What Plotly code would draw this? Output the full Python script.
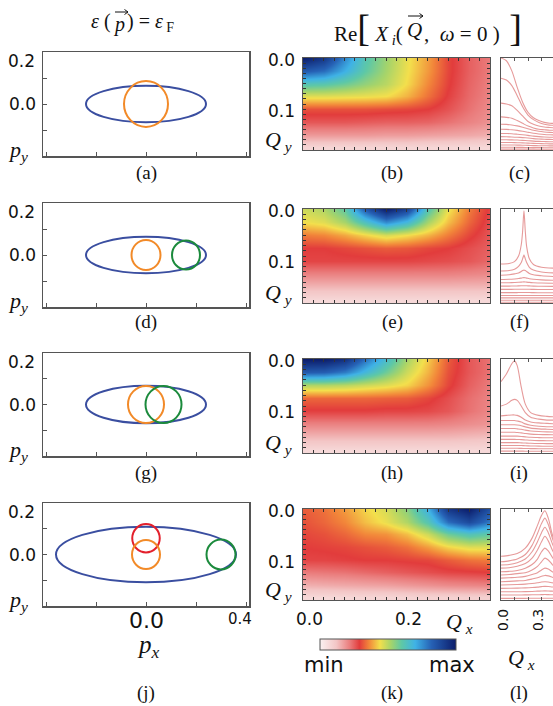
import plotly.graph_objects as go

W, H = 553, 706

# ---------------- data ----------------
# Fermi surfaces, panels (a), (d), (g), (j)
fs_panels = ["a", "d", "g", "j"]
fs_ellipse_rx = [0.24, 0.24, 0.24, 0.36]
fs_ellipse_ry = [0.070, 0.070, 0.073, 0.108]
fs_circle_kind = [["orange"], ["orange", "green"], ["orange", "green"], ["red", "orange", "green"]]
fs_circle_cx = [[0.0], [0.0, 0.16], [0.0, 0.07], [0.0, 0.0, 0.30]]
fs_circle_cy = [[0.0], [0.0, 0.0], [0.0, 0.0], [0.063, 0.0, 0.0]]
fs_circle_r = [[0.088], [0.058, 0.056], [0.072, 0.072], [0.055, 0.056, 0.058]]

# Re X_i(Q, w=0) maps, panels (b), (e), (h), (k)  (0 = min, 1 = max)
qx_grid = [0.00, 0.04, 0.08, 0.12, 0.16, 0.20, 0.24, 0.28, 0.32, 0.36]
qy_grid = [0.000, 0.025, 0.050, 0.075, 0.100, 0.125, 0.150, 0.175]

z_b = [
    [1.00, 0.93, 0.76, 0.62, 0.53, 0.45, 0.38, 0.30, 0.25, 0.22],
    [0.84, 0.80, 0.70, 0.60, 0.52, 0.445, 0.375, 0.30, 0.25, 0.22],
    [0.62, 0.61, 0.58, 0.54, 0.50, 0.435, 0.36, 0.295, 0.245, 0.215],
    [0.46, 0.46, 0.455, 0.45, 0.44, 0.40, 0.34, 0.285, 0.24, 0.21],
    [0.31, 0.31, 0.31, 0.31, 0.305, 0.30, 0.29, 0.265, 0.23, 0.20],
    [0.26, 0.26, 0.26, 0.255, 0.25, 0.25, 0.245, 0.23, 0.21, 0.19],
    [0.18, 0.18, 0.18, 0.18, 0.175, 0.175, 0.17, 0.165, 0.16, 0.15],
    [0.08, 0.08, 0.08, 0.08, 0.08, 0.08, 0.075, 0.075, 0.07, 0.07],
]
z_e = [
    [0.48, 0.51, 0.60, 0.84, 1.00, 0.90, 0.62, 0.45, 0.35, 0.28],
    [0.44, 0.46, 0.52, 0.64, 0.76, 0.68, 0.52, 0.41, 0.33, 0.27],
    [0.35, 0.36, 0.39, 0.43, 0.47, 0.44, 0.40, 0.35, 0.30, 0.26],
    [0.29, 0.29, 0.30, 0.31, 0.32, 0.315, 0.30, 0.29, 0.27, 0.25],
    [0.28, 0.28, 0.28, 0.28, 0.28, 0.28, 0.275, 0.27, 0.26, 0.24],
    [0.21, 0.21, 0.21, 0.21, 0.21, 0.21, 0.21, 0.21, 0.205, 0.20],
    [0.14, 0.14, 0.14, 0.14, 0.14, 0.14, 0.14, 0.14, 0.14, 0.14],
    [0.07, 0.07, 0.07, 0.07, 0.07, 0.07, 0.07, 0.07, 0.07, 0.07],
]
z_h = [
    [1.00, 1.00, 0.95, 0.80, 0.66, 0.52, 0.42, 0.32, 0.26, 0.23],
    [0.84, 0.83, 0.78, 0.68, 0.58, 0.48, 0.40, 0.31, 0.26, 0.23],
    [0.51, 0.51, 0.50, 0.48, 0.46, 0.43, 0.37, 0.30, 0.25, 0.22],
    [0.33, 0.33, 0.33, 0.33, 0.325, 0.32, 0.30, 0.27, 0.235, 0.21],
    [0.285, 0.285, 0.285, 0.285, 0.28, 0.28, 0.275, 0.26, 0.23, 0.205],
    [0.21, 0.21, 0.21, 0.21, 0.21, 0.21, 0.21, 0.205, 0.195, 0.185],
    [0.14, 0.14, 0.14, 0.14, 0.14, 0.14, 0.14, 0.14, 0.135, 0.13],
    [0.07, 0.07, 0.07, 0.07, 0.07, 0.07, 0.07, 0.07, 0.07, 0.07],
]
z_k = [
    [0.32, 0.34, 0.38, 0.43, 0.47, 0.55, 0.70, 0.93, 1.00, 0.86],
    [0.31, 0.33, 0.36, 0.41, 0.45, 0.51, 0.62, 0.80, 0.88, 0.78],
    [0.30, 0.31, 0.33, 0.36, 0.37, 0.41, 0.48, 0.58, 0.63, 0.60],
    [0.29, 0.295, 0.30, 0.31, 0.32, 0.34, 0.38, 0.43, 0.46, 0.46],
    [0.28, 0.28, 0.285, 0.29, 0.29, 0.295, 0.30, 0.32, 0.34, 0.35],
    [0.22, 0.225, 0.23, 0.24, 0.25, 0.26, 0.27, 0.28, 0.285, 0.29],
    [0.15, 0.155, 0.16, 0.165, 0.17, 0.18, 0.19, 0.20, 0.205, 0.21],
    [0.07, 0.07, 0.075, 0.08, 0.08, 0.085, 0.09, 0.09, 0.095, 0.095],
]

# Line cuts, panels (c), (f), (i), (l)
cut_x_c = [0.00, 0.04, 0.08, 0.12, 0.16, 0.20, 0.24, 0.28, 0.32, 0.36, 0.40]
cuts_c = [
    [1.00, 0.97, 0.86, 0.68, 0.52, 0.41, 0.35, 0.32, 0.30, 0.29, 0.29],
    [0.78, 0.76, 0.70, 0.59, 0.47, 0.38, 0.33, 0.30, 0.28, 0.27, 0.27],
    [0.51, 0.50, 0.48, 0.43, 0.37, 0.31, 0.28, 0.26, 0.25, 0.245, 0.24],
    [0.36, 0.355, 0.345, 0.32, 0.29, 0.26, 0.24, 0.225, 0.22, 0.215, 0.215],
    [0.28, 0.278, 0.272, 0.262, 0.248, 0.232, 0.215, 0.203, 0.196, 0.192, 0.19],
    [0.225, 0.224, 0.22, 0.213, 0.204, 0.193, 0.182, 0.174, 0.168, 0.165, 0.164],
    [0.18, 0.179, 0.177, 0.172, 0.166, 0.159, 0.151, 0.145, 0.141, 0.139, 0.138],
    [0.145, 0.144, 0.142, 0.139, 0.135, 0.13, 0.124, 0.12, 0.117, 0.115, 0.114],
    [0.112, 0.111, 0.11, 0.108, 0.105, 0.101, 0.097, 0.094, 0.092, 0.09, 0.09],
    [0.082, 0.082, 0.081, 0.079, 0.077, 0.075, 0.072, 0.07, 0.068, 0.067, 0.067],
    [0.055, 0.055, 0.054, 0.053, 0.052, 0.05, 0.048, 0.047, 0.046, 0.045, 0.045],
    [0.03, 0.03, 0.03, 0.029, 0.028, 0.027, 0.026, 0.026, 0.025, 0.025, 0.025],
    [0.01, 0.01, 0.01, 0.01, 0.009, 0.009, 0.009, 0.008, 0.008, 0.008, 0.008],
]
cut_x_f = [0.00, 0.06, 0.10, 0.13, 0.15, 0.16, 0.17, 0.18, 0.19, 0.21, 0.24, 0.30, 0.40]
cuts_f = [
    [0.415, 0.42, 0.44, 0.50, 0.62, 0.76, 0.98, 0.76, 0.60, 0.47, 0.41, 0.38, 0.37],
    [0.34, 0.345, 0.36, 0.39, 0.43, 0.47, 0.51, 0.47, 0.43, 0.38, 0.35, 0.33, 0.32],
    [0.296, 0.30, 0.31, 0.32, 0.335, 0.345, 0.35, 0.345, 0.335, 0.315, 0.30, 0.29, 0.28],
    [0.25, 0.252, 0.256, 0.26, 0.265, 0.268, 0.27, 0.268, 0.265, 0.258, 0.252, 0.246, 0.242],
    [0.215, 0.216, 0.218, 0.22, 0.222, 0.224, 0.225, 0.224, 0.222, 0.219, 0.216, 0.212, 0.21],
    [0.18, 0.18, 0.181, 0.182, 0.183, 0.184, 0.184, 0.184, 0.183, 0.182, 0.18, 0.178, 0.177],
    [0.145, 0.145, 0.146, 0.146, 0.147, 0.147, 0.147, 0.147, 0.147, 0.146, 0.145, 0.144, 0.143],
    [0.11, 0.11, 0.11, 0.111, 0.111, 0.111, 0.111, 0.111, 0.111, 0.111, 0.11, 0.109, 0.109],
    [0.08, 0.08, 0.08, 0.08, 0.08, 0.08, 0.08, 0.08, 0.08, 0.08, 0.08, 0.079, 0.079],
    [0.055, 0.055, 0.055, 0.055, 0.055, 0.055, 0.055, 0.055, 0.055, 0.055, 0.055, 0.054, 0.054],
    [0.03, 0.03, 0.03, 0.03, 0.03, 0.03, 0.03, 0.03, 0.03, 0.03, 0.03, 0.03, 0.03],
    [0.008, 0.008, 0.008, 0.008, 0.008, 0.008, 0.008, 0.008, 0.008, 0.008, 0.008, 0.008, 0.008],
]
cut_x_i = [0.00, 0.04, 0.08, 0.10, 0.12, 0.15, 0.18, 0.22, 0.28, 0.34, 0.40]
cuts_i = [
    [0.76, 0.84, 0.95, 0.98, 0.93, 0.70, 0.52, 0.43, 0.40, 0.39, 0.385],
    [0.50, 0.52, 0.56, 0.57, 0.56, 0.50, 0.43, 0.38, 0.36, 0.35, 0.35],
    [0.395, 0.40, 0.405, 0.405, 0.40, 0.38, 0.35, 0.33, 0.32, 0.315, 0.31],
    [0.345, 0.345, 0.345, 0.345, 0.34, 0.33, 0.31, 0.295, 0.285, 0.28, 0.28],
    [0.30, 0.30, 0.30, 0.30, 0.297, 0.29, 0.278, 0.265, 0.257, 0.253, 0.25],
    [0.26, 0.26, 0.26, 0.26, 0.257, 0.252, 0.243, 0.234, 0.228, 0.225, 0.224],
    [0.22, 0.22, 0.22, 0.22, 0.218, 0.214, 0.208, 0.201, 0.197, 0.195, 0.194],
    [0.18, 0.18, 0.18, 0.18, 0.179, 0.176, 0.172, 0.167, 0.164, 0.162, 0.162],
    [0.145, 0.145, 0.145, 0.145, 0.144, 0.142, 0.139, 0.135, 0.132, 0.131, 0.13],
    [0.11, 0.11, 0.11, 0.11, 0.11, 0.108, 0.106, 0.103, 0.101, 0.10, 0.10],
    [0.08, 0.08, 0.08, 0.08, 0.08, 0.079, 0.077, 0.075, 0.073, 0.072, 0.072],
    [0.05, 0.05, 0.05, 0.05, 0.05, 0.049, 0.048, 0.047, 0.046, 0.045, 0.045],
    [0.02, 0.02, 0.02, 0.02, 0.02, 0.02, 0.019, 0.019, 0.018, 0.018, 0.018],
]
cut_x_l = [0.00, 0.06, 0.12, 0.18, 0.23, 0.27, 0.30, 0.325, 0.35, 0.38, 0.42]
cuts_l = [
    [0.48, 0.49, 0.51, 0.57, 0.68, 0.82, 0.93, 0.98, 0.90, 0.72, 0.55],
    [0.42, 0.43, 0.45, 0.50, 0.60, 0.73, 0.84, 0.90, 0.83, 0.68, 0.52],
    [0.385, 0.39, 0.41, 0.45, 0.53, 0.64, 0.74, 0.80, 0.74, 0.62, 0.48],
    [0.35, 0.355, 0.37, 0.40, 0.46, 0.55, 0.64, 0.70, 0.65, 0.55, 0.44],
    [0.31, 0.315, 0.325, 0.35, 0.39, 0.45, 0.53, 0.57, 0.54, 0.47, 0.38],
    [0.275, 0.28, 0.29, 0.30, 0.33, 0.37, 0.42, 0.46, 0.44, 0.39, 0.33],
    [0.24, 0.245, 0.25, 0.26, 0.28, 0.30, 0.33, 0.35, 0.34, 0.31, 0.28],
    [0.20, 0.205, 0.21, 0.215, 0.23, 0.245, 0.26, 0.27, 0.265, 0.25, 0.23],
    [0.165, 0.167, 0.17, 0.175, 0.182, 0.19, 0.197, 0.20, 0.198, 0.19, 0.18],
    [0.128, 0.129, 0.13, 0.133, 0.137, 0.142, 0.147, 0.15, 0.148, 0.143, 0.137],
    [0.09, 0.09, 0.091, 0.092, 0.094, 0.097, 0.099, 0.10, 0.099, 0.097, 0.094],
    [0.055, 0.055, 0.055, 0.056, 0.057, 0.058, 0.059, 0.06, 0.059, 0.058, 0.057],
    [0.018, 0.018, 0.018, 0.018, 0.019, 0.019, 0.02, 0.02, 0.02, 0.019, 0.019],
]

# ---------------- styles / layout ----------------
SERIF = "Liberation Serif"
SANS = "DejaVu Sans"
FRAME = "#555555"
TICK = "#333333"
circle_colors = {"orange": "#f28a28", "green": "#1b8a3c", "red": "#e3202c"}
ellipse_color = "#3a4ea0"
cut_color = "rgba(222,120,120,0.75)"
colorscale = [
    [0.00, "#faf1f1"],
    [0.12, "#f3c6c6"],
    [0.22, "#ea7c7c"],
    [0.29, "#e23c3c"],
    [0.36, "#f2873a"],
    [0.44, "#f3df4c"],
    [0.52, "#a6d46a"],
    [0.60, "#5ec8a6"],
    [0.70, "#3fb2e6"],
    [0.82, "#2661b5"],
    [1.00, "#0c1d6b"],
]

left_px = (43, 249)
heat_px = (303, 490)
cut_px = (501, 553)
rows_left = [(52, 156), (203, 307), (353, 456), (503, 606)]
rows_heat = [(58, 150), (209, 303), (359, 453), (509, 600)]
label_y = [173, 322, 473, 693]


def fx(p):
    return p / W


def fy(p):
    return 1 - p / H


fig = go.Figure()
layout = dict(
    width=W, height=H, margin=dict(l=0, r=0, t=0, b=0), autosize=False,
    paper_bgcolor="white", plot_bgcolor="white", showlegend=False,
)
shapes = []
annotations = []


def ann(text, x, y, size, family, angle=0, color="#111", xanchor="center"):
    annotations.append(dict(
        text=text, x=fx(x), y=fy(y), xref="paper", yref="paper", showarrow=False,
        font=dict(size=size, family=family, color=color), textangle=angle,
        xanchor=xanchor, yanchor="middle",
    ))


def vec_arrow(x0, x1, y):
    # small vector arrow drawn above a letter (paper coordinates)
    path = (f"M {fx(x0)},{fy(y)} L {fx(x1)},{fy(y)} "
            f"M {fx(x1 - 3.5)},{fy(y - 2.5)} L {fx(x1)},{fy(y)} L {fx(x1 - 3.5)},{fy(y + 2.5)}")
    shapes.append(dict(type="path", xref="paper", yref="paper", path=path,
                       line=dict(color="#111", width=1)))


heat_z = [z_b, z_e, z_h, z_k]
cut_x = [cut_x_c, cut_x_f, cut_x_i, cut_x_l]
cuts = [cuts_c, cuts_f, cuts_i, cuts_l]
labels = [("(a)", "(b)", "(c)"), ("(d)", "(e)", "(f)"), ("(g)", "(h)", "(i)"), ("(j)", "(k)", "(l)")]

for r in range(4):
    il, ih, ic = 3 * r + 1, 3 * r + 2, 3 * r + 3
    # ---- Fermi surface panel ----
    t, b = rows_left[r]
    xa = f"x{il}"
    ya = f"y{il}"
    fig.add_trace(go.Scatter(x=[None], y=[None], xaxis=xa, yaxis=ya, hoverinfo="skip"))
    layout[f"xaxis{il}"] = dict(
        domain=[fx(left_px[0]), fx(left_px[1])], range=[-0.412, 0.412], anchor=ya,
        showline=True, linecolor=FRAME, linewidth=1.5, mirror=True, ticks="inside",
        tickvals=[-0.4, -0.2, 0.0, 0.2, 0.4], ticklen=4, tickcolor=FRAME,
        showticklabels=False, showgrid=False, zeroline=False, fixedrange=True,
    )
    layout[f"yaxis{il}"] = dict(
        domain=[fy(b), fy(t)], range=[-0.2, 0.2], anchor=xa,
        showline=True, linecolor=FRAME, linewidth=1.5, mirror=True, ticks="inside",
        tickvals=[-0.2, -0.1, 0.0, 0.1, 0.2], ticklen=4, tickcolor=FRAME,
        showticklabels=False, showgrid=False, zeroline=False, fixedrange=True,
    )
    rx, ry = fs_ellipse_rx[r], fs_ellipse_ry[r]
    shapes.append(dict(type="circle", xref=xa, yref=ya, x0=-rx, x1=rx, y0=-ry, y1=ry,
                       line=dict(color=ellipse_color, width=2)))
    for kind, cx, cy, rr in zip(fs_circle_kind[r], fs_circle_cx[r], fs_circle_cy[r], fs_circle_r[r]):
        shapes.append(dict(type="circle", xref=xa, yref=ya, x0=cx - rr, x1=cx + rr,
                           y0=cy - rr, y1=cy + rr, line=dict(color=circle_colors[kind], width=2)))
    ann("0.2", 21, t + 9, 17, SANS)
    ann("0.0", 22, (t + b) / 2, 17, SANS)
    ann("<i>p</i><sub><i>y</i></sub>", 18, b - 5, 22, SERIF)
    ann(labels[r][0], 146, label_y[r], 19, SERIF)

    # ---- heatmap panel ----
    t, b = rows_heat[r]
    xa = f"x{ih}"
    ya = f"y{ih}"
    fig.add_trace(go.Heatmap(
        x=qx_grid, y=qy_grid, z=heat_z[r], xaxis=xa, yaxis=ya, zmin=0, zmax=1,
        colorscale=colorscale, zsmooth="best", hoverinfo="skip",
        showscale=(r == 3),
        colorbar=dict(orientation="h", x=fx(388), xanchor="center", y=fy(645), yanchor="middle",
                      len=156, lenmode="pixels", thickness=11, thicknessmode="pixels",
                      xpad=10, ypad=0,
                      outlinewidth=1, outlinecolor=FRAME, showticklabels=False, ticks=""),
    ))
    layout[f"xaxis{ih}"] = dict(
        domain=[fx(heat_px[0]), fx(heat_px[1])], range=[0, 0.36], anchor=ya,
        showline=True, linecolor=FRAME, linewidth=1.2, mirror="allticks", ticks="inside",
        tickmode="linear", tick0=0, dtick=0.02, ticklen=3, tickcolor=TICK, tickwidth=1,
        showticklabels=False, showgrid=False, zeroline=False, fixedrange=True,
        layer="above traces",
    )
    layout[f"yaxis{ih}"] = dict(
        domain=[fy(b), fy(t)], range=[0.18, 0.0], anchor=xa,
        showline=True, linecolor=FRAME, linewidth=1.2, mirror="allticks", ticks="inside",
        tickmode="linear", tick0=0, dtick=0.01, ticklen=3, tickcolor=TICK, tickwidth=1,
        showticklabels=False, showgrid=False, zeroline=False, fixedrange=True,
        layer="above traces",
    )
    ann("0.0", 281, t + 2, 17, SANS)
    ann("0.1", 281, t + 53, 17, SANS)
    ann("<i>Q</i><sub> <i>y</i></sub>", 278, b - 9, 22, SERIF)
    ann(labels[r][1], 392, label_y[r], 19, SERIF)

    # ---- line cut panel ----
    xa = f"x{ic}"
    ya = f"y{ic}"
    for curve in cuts[r]:
        fig.add_trace(go.Scatter(
            x=cut_x[r], y=curve, xaxis=xa, yaxis=ya, mode="lines",
            line=dict(color=cut_color, width=1.1, shape="spline", smoothing=0.8),
            hoverinfo="skip", cliponaxis=True,
        ))
    layout[f"xaxis{ic}"] = dict(
        domain=[fx(cut_px[0]), 1.0], range=[0, 0.385], anchor=ya,
        showline=True, linecolor=FRAME, linewidth=1.2, mirror="allticks", ticks="inside",
        dtick=0.1, tick0=0, ticklen=3, tickcolor=FRAME,
        showticklabels=False, showgrid=False, zeroline=False, fixedrange=True,
    )
    layout[f"yaxis{ic}"] = dict(
        domain=[fy(b), fy(t)], range=[0, 1.0], anchor=xa,
        showline=True, linecolor=FRAME, linewidth=1.2, mirror=False, ticks="",
        showticklabels=False, showgrid=False, zeroline=False, fixedrange=True,
    )
    ann(labels[r][2], 519, label_y[r], 19, SERIF)

# titles (vector arrows drawn as small arrow shapes above the letters)
ann("<i>ε</i> (", 113, 22, 20, SERIF, xanchor="right")
ann("<i>p</i>", 119, 24, 20, SERIF)
ann(") = <i>ε</i><sub> F</sub>", 125, 23, 20, SERIF, xanchor="left")
vec_arrow(115, 128, 12)
ann("Re<span style='font-size:38px'>[</span> <i>X</i><sub> <i>i</i></sub>(", 405, 28, 21, SERIF,
    xanchor="right")
ann("<i>Q</i>", 414, 30, 21, SERIF)
ann(",  <i>ω</i> = 0 )<span style='font-size:38px'> ]</span>", 422, 28, 21, SERIF, xanchor="left")
vec_arrow(408, 423, 16)

# bottom axis labels
ann("0.0", 146, 620, 22, SANS)
ann("0.4", 240, 619, 15, SANS)
ann("<i>p</i><sub><i>x</i></sub>", 148, 646, 25, SERIF)
ann("0.0", 309, 619, 17, SANS)
ann("0.2", 408, 619, 17, SANS)
ann("<i>Q</i><sub> <i>x</i></sub>", 459, 623, 22, SERIF)
ann("0.0", 503, 620, 14, SANS, angle=-90)
ann("0.3", 538, 620, 14, SANS, angle=-90)
ann("<i>Q</i><sub> <i>x</i></sub>", 521, 659, 22, SERIF)
ann("min", 324, 665, 21, SANS)
ann("max", 452, 665, 21, SANS)

layout["shapes"] = shapes
layout["annotations"] = annotations
fig.update_layout(**layout)
fig.write_html(
    "out.html",
    config={"displayModeBar": False, "staticPlot": True},
    post_script="document.body.style.margin='0px';document.body.style.overflow='hidden';",
)
